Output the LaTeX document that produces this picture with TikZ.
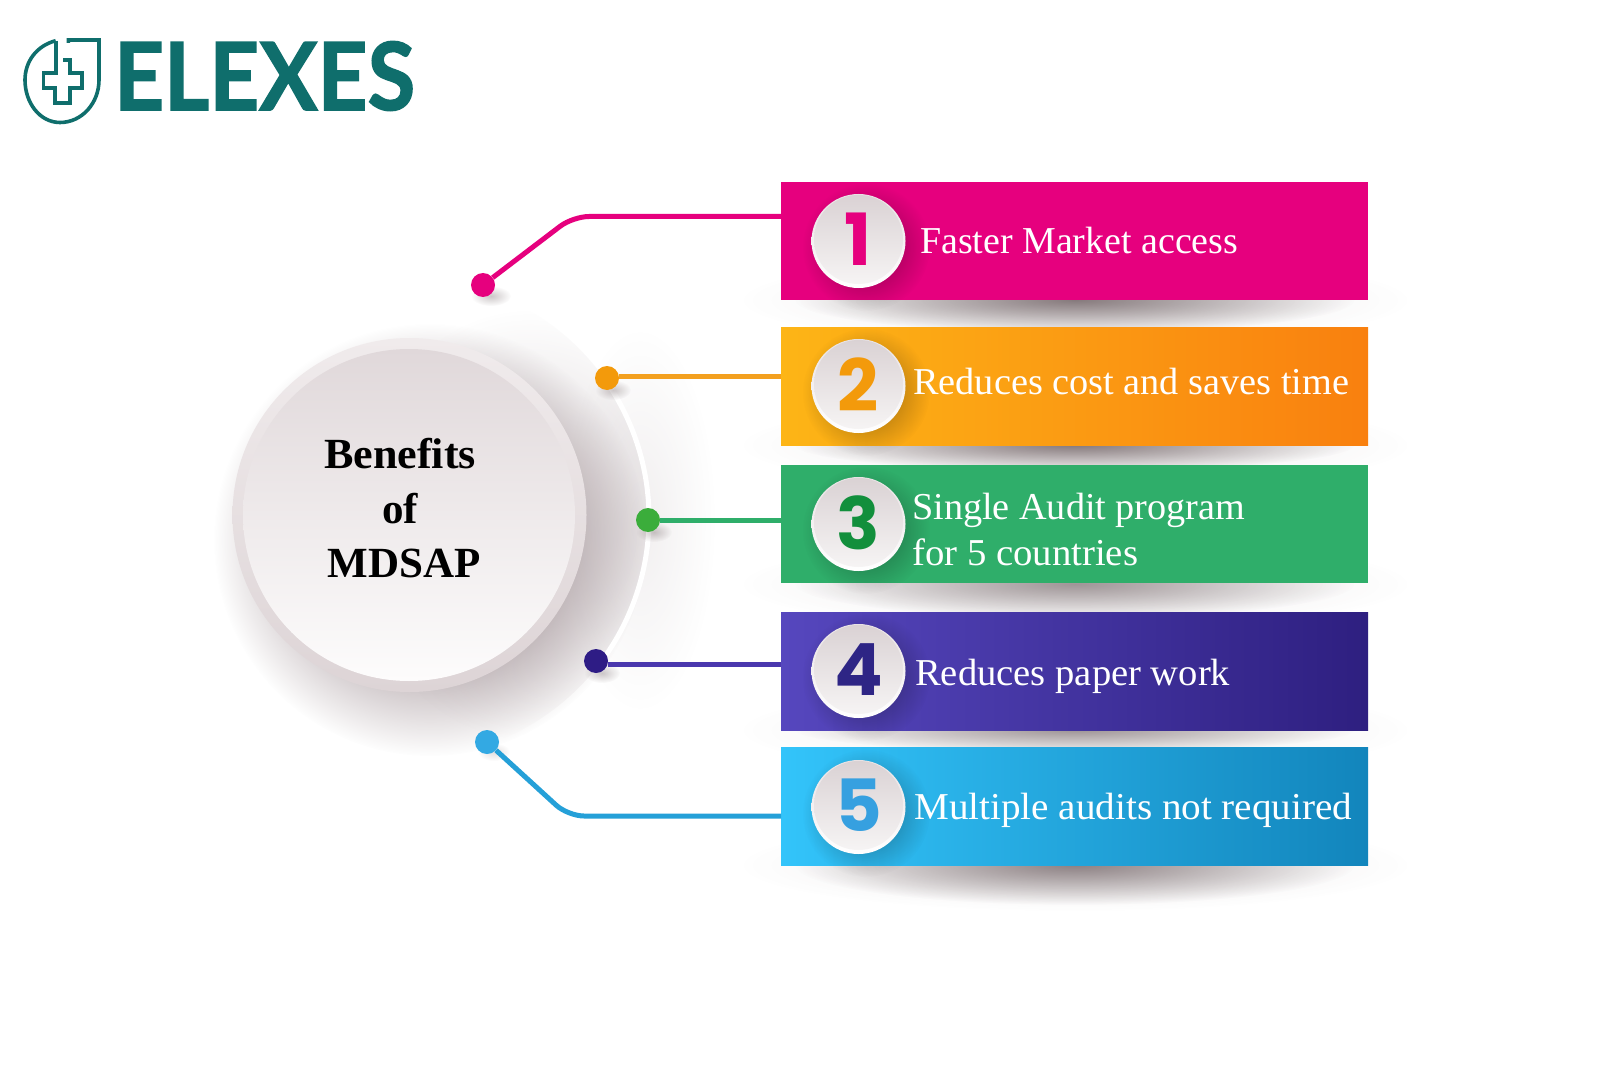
\documentclass[tikz,border=0pt]{standalone}
\usepackage{fontspec}
\usepackage{graphicx}
\usetikzlibrary{fadings}
\setmainfont{Liberation Serif}
\newfontfamily\numfont{Poppins}
\newfontfamily\logofont{Lato}[BoldFeatures={FakeBold=1.6}]
\definecolor{teal1}{HTML}{0F6E6C}
\definecolor{cPink}{HTML}{E6007E}
\definecolor{cOrA}{HTML}{FDB516}\definecolor{cOrB}{HTML}{F9800F}
\definecolor{cGrn}{HTML}{2FAE6A}
\definecolor{cPurA}{HTML}{5647BE}\definecolor{cPurB}{HTML}{2E1F80}
\definecolor{cBluA}{HTML}{33C4FA}\definecolor{cBluB}{HTML}{1285BC}
\definecolor{dOr}{HTML}{F39A0B}\definecolor{dGrn}{HTML}{3BAD3B}
\definecolor{dPur}{HTML}{2E1C85}\definecolor{dBlu}{HTML}{33A9E3}
\definecolor{nGrn}{HTML}{128F3C}\definecolor{nPur}{HTML}{2E2585}\definecolor{nBlu}{HTML}{36A0E0}
\definecolor{lOr}{HTML}{F3A01F}\definecolor{lPur}{HTML}{4A38AE}\definecolor{lBlu}{HTML}{25A0D8}
\definecolor{haloC}{HTML}{A89A9E}
\definecolor{shadeC}{HTML}{6E5F62}
\definecolor{faceTop}{HTML}{E0D8DA}\definecolor{faceBot}{HTML}{FDFCFC}
\definecolor{rimTop}{HTML}{F0EBEC}\definecolor{rimBot}{HTML}{DDD4D6}\definecolor{rimSmall}{HTML}{E8E2E4}
\definecolor{numTop}{HTML}{DAD2D4}\definecolor{numBot}{HTML}{F6F4F4}
\pgfdeclareradialshading{softS}{\pgfpointorigin}{color(0bp)=(white); color(25bp)=(black); color(50bp)=(black)}
\pgfdeclarefading{softF}{\pgfuseshading{softS}}
\pgfdeclareradialshading{haloS}{\pgfpointorigin}{color(0bp)=(white); color(16bp)=(white); color(25bp)=(black); color(50bp)=(black)}
\pgfdeclarefading{haloF}{\pgfuseshading{haloS}}
\tikzset{
  barbox/.style={draw=none,minimum width=587pt,minimum height=118pt,inner sep=0pt,anchor=north west},
  rimdisc/.style={circle,minimum size=94pt,inner sep=0pt,shade,top color=#1,bottom color=white},
  numdisc/.style={circle,minimum size=89pt,inner sep=0pt,shade,shading angle=30,top color=numTop,bottom color=numBot,font=\numfont\bfseries\fontsize{72}{72}\selectfont},
  label/.style={anchor=base west,inner sep=0pt,text=white,font=\fontsize{38}{38}\selectfont},
  titletext/.style={anchor=base,inner sep=0pt,text=black,font=\bfseries\fontsize{43}{43}\selectfont},
  link/.style={line width=5pt,line cap=butt,rounded corners=16pt},
  dotnode/.style={circle,minimum size=24pt,inner sep=0pt,fill=#1},
  logoline/.style={draw=teal1,line width=3.6pt,line join=miter},
}
\newcommand{\softspot}[5]{\fill[#5,opacity=#4,path fading=softF] (#1) ellipse (#2pt and #3pt);}
\newcommand{\fitw}[2]{\resizebox{#1pt}{\height}{#2}}
\begin{document}
\begin{tikzpicture}[x=1pt,y=-1pt]
\useasboundingbox (0,0) rectangle (1600,1067);
\fill[white] (0,0) rectangle (1600,1067);
% bar shadows
\foreach \yy/\ry/\op in {300/33/.8,445/26/.8,584/34/.6,730/22/.6,865/40/.75}{
  \softspot{1075,\yy}{335}{46}{.14}{shadeC}
  \softspot{1075,\yy}{280}{\ry}{\op}{shadeC}
}
% halo
\softspot{640,520}{75}{190}{.16}{haloC}
\fill[haloC,opacity=.62,path fading=haloF] (430,540) circle (216pt);
\begin{scope}
  \clip (409,518) circle (240pt);
  \fill[haloC,opacity=.44,path fading=softF] (530,525) ellipse (180pt and 215pt);
\end{scope}
% arc
\draw[white,line width=5pt] plot[smooth,domain=-35:37.4,samples=30] ({409+240*cos(\x)},{518+240*sin(\x)});
% central disc
\node[circle,minimum size=354pt,inner sep=0pt,shade,top color=rimTop,bottom color=rimBot] (rim) at (409.5,515) {};
\node[circle,minimum size=332pt,inner sep=0pt,shade,shading angle=15,top color=faceTop,bottom color=faceBot] (face) at (409,515) {};
\node[titletext] (t1) at (400,468) {\fitw{152}{Benefits}};
\node[titletext] (t2) at (400,523) {of};
\node[titletext] (t3) at (404,577) {\fitw{153}{MDSAP}};
% bars
\node[barbox,fill=cPink] (bar1) at (781,182) {};
\node[barbox,shade,left color=cOrA,right color=cOrB] (bar2) at (781,327) {};
\node[barbox,fill=cGrn] (bar3) at (781,465) {};
\node[barbox,shade,left color=cPurA,right color=cPurB] (bar4) at (781,612) {};
\node[barbox,shade,left color=cBluA,right color=cBluB] (bar5) at (781,747) {};
% connector ends
\coordinate (e1) at (781,216.5);
\coordinate (e2) at (781,376.5);
\coordinate (e3) at (781,520);
\coordinate (e4) at (781,664);
\coordinate (e5) at (781,816);
\coordinate (b1) at (573,216.5);
\coordinate (b5) at (568,816);
% dot shadows
\softspot{491,296}{20}{10}{.35}{shadeC}
\softspot{613,390}{18}{10}{.35}{shadeC}
\softspot{654,532}{18}{10}{.35}{shadeC}
\softspot{602,673}{18}{10}{.35}{shadeC}
\softspot{494,752}{16}{9}{.2}{shadeC}
% dots
\node[dotnode=cPink] (d1) at (483,285) {};
\node[dotnode=dOr] (d2) at (607,378) {};
\node[dotnode=dGrn] (d3) at (648,520) {};
\node[dotnode=dPur] (d4) at (596,661) {};
\node[dotnode=dBlu] (d5) at (487,742) {};
% connectors
\draw[link,cPink] (d1) -- (b1) -- (e1);
\draw[link,lOr] (d2.east |- e2) -- (e2);
\draw[link,cGrn] (d3) -- (e3);
\draw[link,lPur] (d4.east |- e4) -- (e4);
\draw[link,lBlu] (d5) -- (b5) -- (e5);
% number discs
\foreach \cy in {241,386,524,671,807}{
  \fill[black,opacity=.42,path fading=softF] (866,\cy+6) circle (64pt);
}
\foreach \nm/\cy/\col/\dg in {n1/241/cPink/1,n2/386/dOr/2,n3/524/nGrn/3,n4/671/nPur/4,n5/807/nBlu/5}{
  \node[rimdisc=rimSmall] (r\nm) at (858.5,\cy) {};
  \node[numdisc,text=\col] (\nm) at (858.5,\cy-1.5) {\dg};
}
% labels
\node[label] (l1) at (920,253.5) {\fitw{318}{Faster Market access}};
\node[label] (l2) at (913,394) {\fitw{436}{Reduces cost and saves time}};
\node[label] (l3a) at (912,519.5) {\fitw{333}{Single Audit program}};
\node[label] (l3b) at (912,565) {\fitw{226}{for 5 countries}};
\node[label] (l4) at (915,685) {\fitw{315}{Reduces paper work}};
\node[label] (l5) at (914,819) {\fitw{438}{Multiple audits not required}};
% logo
\draw[logoline] (55.7,40.7) .. controls (36,46) and (25,62) .. (25,80) .. controls (25,103) and (40,122.5) .. (60,122.5) .. controls (82,122.5) and (99,103) .. (99,80) -- (99,40) -- (68.3,40) -- (68.3,43);
\draw[logoline] (55.7,40.7) -- (55.7,73.3) -- (43.3,73.3) -- (43.3,88.3) -- (55,88.3) -- (55,103.3) -- (70,103.3) -- (70,88.3) -- (81.7,88.3) -- (81.7,73.3) -- (70,73.3) -- (70,60) -- (63.3,60);
\node[anchor=base west,inner sep=0pt,text=teal1,font=\logofont\bfseries\fontsize{94}{94}\selectfont] (logo) at (114,110) {\fitw{301}{ELEXES}};
\end{tikzpicture}
\end{document}
